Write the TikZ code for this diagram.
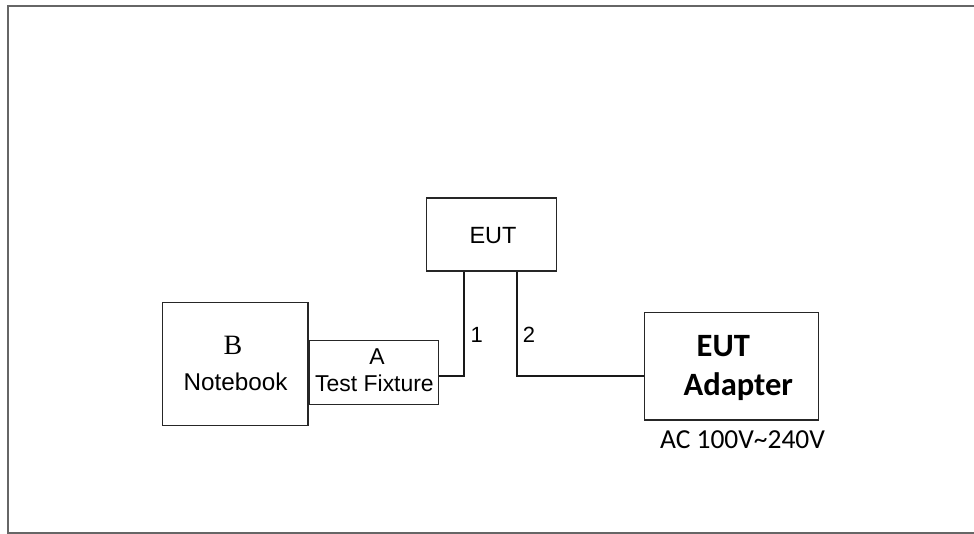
\documentclass[tikz,border=0pt]{standalone}
\usepackage{fontspec}
\setmainfont{Liberation Sans}
\newfontfamily\serifB{Liberation Serif}
\newfontfamily\calfont{Carlito}
\begin{document}
\begin{tikzpicture}[x=0.75pt,y=-0.75pt,
  box/.style 2 args={draw=black!85,line width=1.1pt,inner sep=0pt,minimum width=#1*0.75pt,minimum height=#2*0.75pt},
  wire/.style={draw=black!90,line width=1.1pt},
  lbl/.style={inner sep=0pt,anchor=base},
  arial/.style={font=\fontsize{17.6pt}{20pt}\selectfont}
]
\useasboundingbox (0,0) rectangle (974,534);
\draw[draw=black!60,line width=1.5pt] (990,6) -- (7.5,6) -- (7.5,532.5) -- (990,532.5);

\node[box={145.3}{122.6}] (nb) at (235.3,364) {};
\node[box={129}{63.6}] (tf) at (373.8,372.5) {};
\node[box={130}{73}] (eut) at (491.7,234.5) {};
\node[box={174}{107.7}] (ad) at (731.3,366.1) {};

\node[lbl,font=\serifB\fontsize{21pt}{24pt}\selectfont] (tb) at (233,354) {B};
\node[lbl,font=\fontsize{18.2pt}{20pt}\selectfont] (tnb) at (235.5,390) {Notebook};
\node[lbl,font=\fontsize{17.2pt}{19pt}\selectfont] (ta) at (377,364) {A};
\node[lbl,font=\fontsize{17.2pt}{19pt}\selectfont] (ttf) at (374.5,391.7) {Test Fixture};
\node[lbl,arial] (teut) at (493,243.3) {EUT};
\node[lbl,font=\fontsize{16.5pt}{19pt}\selectfont] (t1) at (476.7,342.7) {1};
\node[lbl,font=\fontsize{16.5pt}{19pt}\selectfont] (t2) at (529,342.7) {2};
\node[lbl,font=\calfont\bfseries\fontsize{24.4pt}{28pt}\selectfont] (tae) at (723.3,356.7) {EUT};
\node[lbl,font=\calfont\bfseries\fontsize{24.4pt}{28pt}\selectfont] (taa) at (738.3,395) {Adapter};
\node[lbl,font=\calfont\fontsize{20.6pt}{24pt}\selectfont] (tac) at (742.5,448.3) {AC 100V\textasciitilde 240V};

\coordinate (j1) at (464,376);
\coordinate (j2) at (517,376);
\draw[wire] (eut.south -| j1) -- (j1) -- (j1 -| tf.east);
\draw[wire] (eut.south -| j2) -- (j2) -- (j2 -| ad.west);
\end{tikzpicture}
\end{document}
